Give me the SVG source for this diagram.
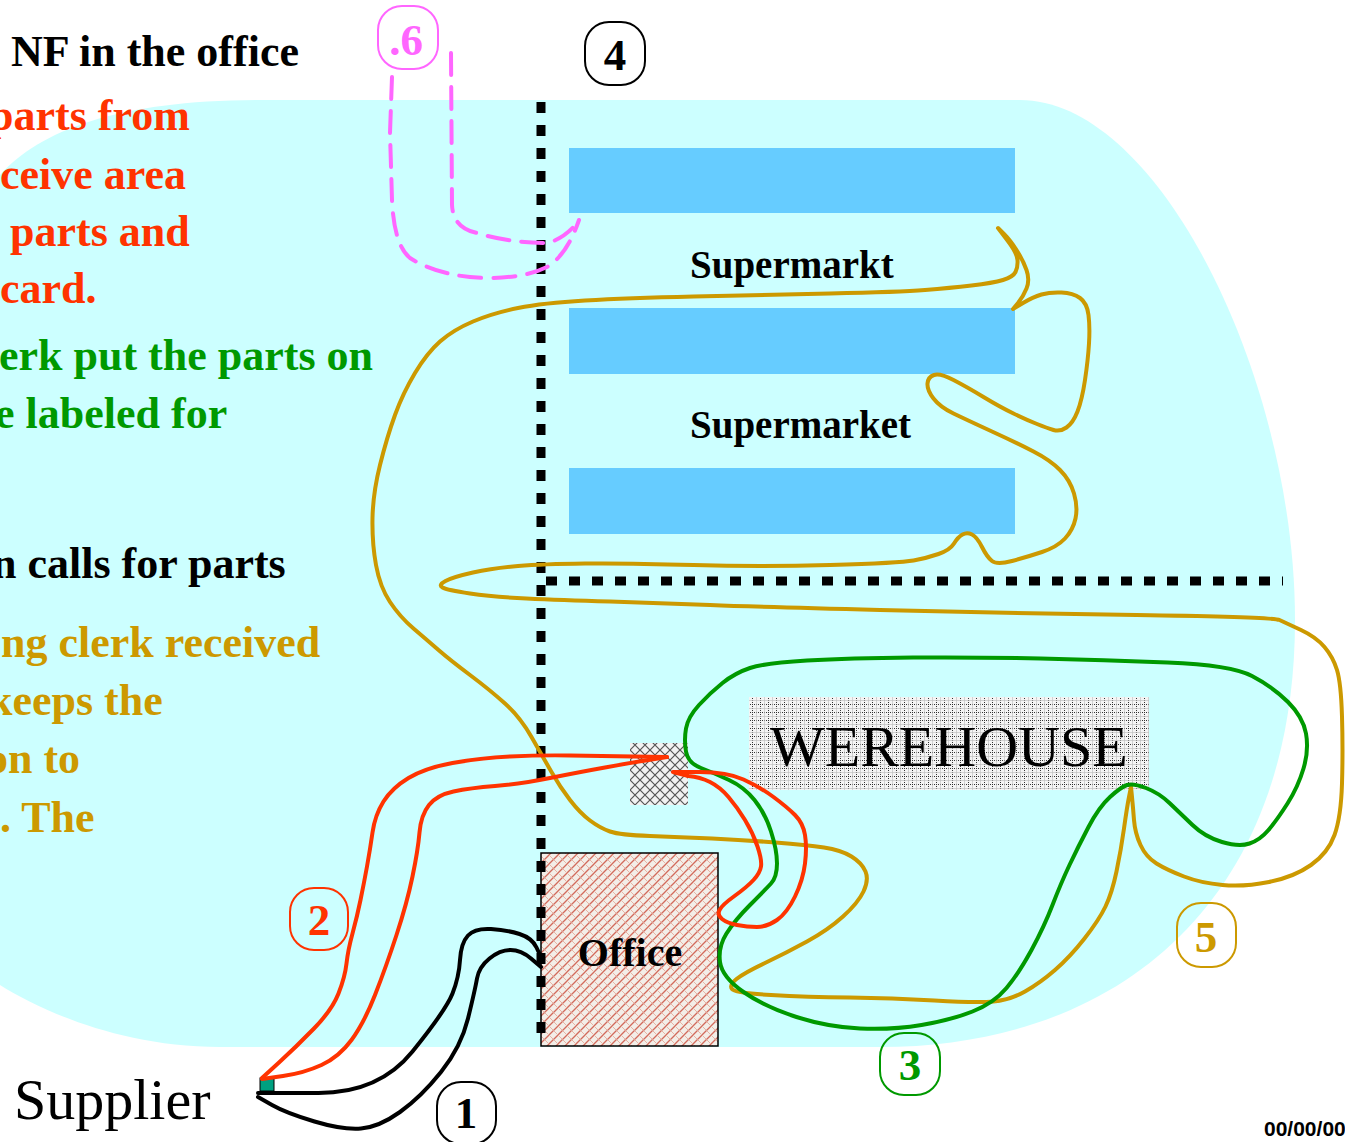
<svg xmlns="http://www.w3.org/2000/svg" width="1345" height="1142" viewBox="0 0 1345 1142">
<style>
.t{font-family:"Liberation Serif","Times New Roman",serif;font-weight:bold;font-size:44px}
.red{fill:#FF3300}.grn{fill:#009900}.gld{fill:#CC9900}.blk{fill:#000}
.bar{fill:#66CCFF}
.sup{font-family:"Liberation Serif","Times New Roman",serif;font-weight:bold;font-size:39px;fill:#000}
.num{font-family:"Liberation Serif","Times New Roman",serif;font-weight:bold;font-size:45px;text-anchor:middle}
.box{fill:none;stroke-width:2}
.dot{fill:none;stroke:#000;stroke-width:9;stroke-dasharray:11 12}
.c{fill:none;stroke-width:4;stroke-linecap:round;stroke-linejoin:round}
</style>
<defs>
<pattern id="office" width="9" height="9" patternUnits="userSpaceOnUse">
<rect width="9" height="9" fill="#F3EEE8"/>
<path d="M-1,10 L10,-1" stroke="#D26B5C" stroke-width="1.3"/>
<path d="M0,0 L9,9" stroke="#E2A494" stroke-width="0.8"/>
</pattern>
<pattern id="hatch" width="10" height="10" patternUnits="userSpaceOnUse">
<rect width="10" height="10" fill="#F2F2F2"/>
<path d="M0,0 L10,10 M0,10 L10,0" stroke="#555" stroke-width="1.2"/>
</pattern>
<pattern id="grid" width="8" height="8" patternUnits="userSpaceOnUse">
<rect width="8" height="8" fill="#F4F4F4"/>
<path d="M0.5,0 V8 M0,0.5 H8" stroke="#333" stroke-width="1" stroke-dasharray="1 1"/>
<path d="M4.5,0 V8 M0,4.5 H8" stroke="#BBB" stroke-width="0.6"/>
</pattern>
</defs>
<rect width="1345" height="1142" fill="#FFFFFF"/>
<path id="area" d="M0,175 C40,130 120,100 260,100 L1020,100 C1160,100 1295,380 1295,620 C1295,900 1120,1047 880,1047 L220,1047 C120,1047 40,1010 0,985 Z" fill="#CCFFFF"/>

<g id="text-left">
<text class="t blk" x="11" y="66">NF in the office</text>
<text class="t red" x="-11" y="130">parts from</text>
<text class="t red" x="0" y="189">ceive area</text>
<text class="t red" x="10" y="246">parts and</text>
<text class="t red" x="0" y="303">card.</text>
<text class="t grn" x="-1" y="370">erk put the parts on</text>
<text class="t grn" x="-5" y="428">e labeled for</text>
<text class="t blk" x="-8" y="578">n calls for parts</text>
<text class="t gld" x="1" y="657">ng clerk received</text>
<text class="t gld" x="-12" y="715">keeps the</text>
<text class="t gld" x="-14" y="773">on to</text>
<text class="t gld" x="0" y="832">. The</text>
</g>

<g id="supermarket">
<rect class="bar" x="569" y="148" width="446" height="65"/>
<rect class="bar" x="569" y="308" width="446" height="66"/>
<rect class="bar" x="569" y="468" width="446" height="66"/>
<text class="sup" x="690" y="278">Supermarkt</text>
<text class="sup" x="690" y="438">Supermarket</text>
</g>

<g id="warehouse">
<rect x="749" y="697" width="400" height="93" fill="url(#grid)"/>
<text x="770" y="766" font-family="Liberation Serif,Times New Roman,serif" font-size="58" fill="#000">WEREHOUSE</text>
</g>

<g id="office-node">
<rect x="541" y="853" width="177" height="193" fill="url(#office)" stroke="#000" stroke-width="1.5"/>
<text x="630" y="966" text-anchor="middle" font-family="Liberation Serif,Times New Roman,serif" font-weight="bold" font-size="40" fill="#000">Office</text>
</g>

<g id="kanban-post">
<rect x="630" y="743" width="58" height="62" fill="url(#hatch)"/>
</g>

<g id="boundaries">
<path class="dot" d="M541,102 V1045"/>
<path class="dot" d="M546,581 H1283"/>
</g>

<g id="supplier">
<text x="14" y="1119" font-family="Liberation Serif,Times New Roman,serif" font-size="58" fill="#000">Supplier</text>
<rect x="260" y="1078" width="14" height="13" fill="#00A080" stroke="#000" stroke-width="1"/>
</g>

<g id="connectors">
<path class="c" stroke="#CC9900" d="M1131,787 L1129,797 Q1127,807 1124,828.5 Q1121,850 1116.5,871.5 Q1112,893 1105.5,906.5 Q1099,920 1084.5,938.5 Q1070,957 1055,970 Q1040,983 1025,991.5 Q1010,1000 993.5,1001.5 Q977,1003 934.5,1000.5 Q892,998 849.5,997.5 Q807,997 771,995 Q735,993 732,989 Q729,985 736.5,979 Q744,973 765,963 Q786,953 807,941.5 Q828,930 843,916.5 Q858,903 863.5,891.5 Q869,880 865.5,871.5 Q862,863 851.5,856.5 Q841,850 824,847.5 Q807,845 775.5,842.5 Q744,840 712,838.5 Q680,837 650,836 Q620,835 610,831.5 Q600,828 590,820.5 Q580,813 570,800 Q560,787 551.5,772 Q543,757 531.5,737 Q520,717 505,703.5 Q490,690 470,675 Q450,660 438.5,650 Q427,640 413.5,628.5 Q400,617 390,602 Q380,587 376,565 Q372,543 372.5,518 Q373,493 380,465 Q387,437 395,415 Q403,393 415,373 Q427,353 440,341.5 Q453,330 473,321.5 Q493,313 518,308 Q543,303 585,300.5 Q627,298 693.5,296.5 Q760,295 830,293.5 Q900,292 925,290 Q950,288 971.5,285.5 Q993,283 1003,280 Q1013,277 1015.5,272 Q1018,267 1017.5,260 Q1017,253 1007.5,240.5 L998,228 L1004,234 Q1010,240 1016.5,250 Q1023,260 1026.5,270 Q1030,280 1026.5,288.5 Q1023,297 1018,303 L1013,309 L1023,303 Q1033,297 1041.5,294.5 Q1050,292 1061.5,292.5 Q1073,293 1080,298 Q1087,303 1088.5,315 Q1090,327 1089,343.5 Q1088,360 1085,380 Q1082,400 1077.5,411.5 Q1073,423 1066.5,427.5 Q1060,432 1053.5,430 Q1047,428 1037,424 Q1027,420 1013.5,413.5 Q1000,407 983.5,397 Q967,387 953.5,380 Q940,373 934,375 Q928,377 927.5,383.5 Q927,390 933.5,398.5 Q940,407 953.5,413.5 Q967,420 992,431.5 Q1017,443 1033.5,451.5 Q1050,460 1060,470 Q1070,480 1074,493.5 Q1078,507 1075.5,518.5 Q1073,530 1065,538.5 Q1057,547 1042,552 Q1027,557 1012,561 Q997,565 992,561 Q987,557 982,547 Q977,537 972,534.5 Q967,532 962.5,534.5 Q958,537 954,543.5 Q950,550 938.5,554 Q927,558 913.5,560.5 Q900,563 830,565 Q760,567 693.5,565 Q627,563 585,563.5 Q543,564 518,566 Q493,568 473,572.5 Q453,577 445.5,581 Q438,585 442.5,587.5 Q447,590 470,593.5 Q493,597 526.5,598.5 Q560,600 610,601.5 Q660,603 710,605 Q760,607 880,610 Q1000,613 1136.5,615 Q1273,617 1279.5,620 Q1286,623 1301,630 Q1316,637 1324.5,647 Q1333,657 1337,670 Q1341,683 1342,716.5 Q1343,750 1342,783.5 Q1341,817 1334.5,835 Q1328,853 1311,865 Q1294,877 1269,882 Q1244,887 1222.5,885 Q1201,883 1184,876.5 Q1167,870 1156.5,863.5 Q1146,857 1140.5,845 Q1135,833 1134,820 Q1133,807 1132,797 L1131,787"/>
<path class="c" stroke="#009900" d="M686,728.5 Q688,717 699,705 Q710,693 722.5,683 Q735,673 750,668 Q765,663 807,660.5 Q849,658 913,657.5 Q977,657 1040.5,658.5 Q1104,660 1167.5,662.5 Q1231,665 1252,676 Q1273,687 1288,702 Q1303,717 1306,733.5 Q1309,750 1303.5,768.5 Q1298,787 1287.5,803.5 Q1277,820 1268.5,830 Q1260,840 1249.5,843.5 Q1239,847 1222,842 Q1205,837 1192.5,825 Q1180,813 1169.5,803 Q1159,793 1146,788 Q1133,783 1127,785 Q1121,787 1110,797 Q1099,807 1088.5,827 Q1078,847 1069.5,865 Q1061,883 1052.5,905 Q1044,927 1031.5,950 Q1019,973 1006.5,988 Q994,1003 972.5,1011.5 Q951,1020 921.5,1025 Q892,1030 860,1028.5 Q828,1027 796.5,1017 Q765,1007 743.5,992 Q722,977 720,962 Q718,947 726.5,933.5 Q735,920 750,905 Q765,890 771,883.5 Q777,877 777,863.5 Q777,850 771,831.5 Q765,813 754.5,800 Q744,787 729,780 Q714,773 701,768 Q688,763 686,751.5 Q684,740 686,728.5 Z"/>
<path class="c" stroke="#FF3300" d="M262,1078 L279,1062.5 Q296,1047 314,1028.5 Q332,1010 338.5,993.5 Q345,977 346.5,963.5 Q348,950 352.5,933.5 Q357,917 360.5,900 Q364,883 367,866.5 Q370,850 372.5,832.5 Q375,815 383.5,801.5 Q392,788 408.5,778 Q425,768 452.5,763 Q480,758 510,756.5 Q540,755 570,755.5 Q600,756 633.5,756.5 L667,757"/>
<path class="c" stroke="#FF3300" d="M262,1079 L283,1076 Q304,1073 321.5,1065 Q339,1057 351.5,1040 Q364,1023 375,995 Q386,967 396.5,935 Q407,903 412.5,876.5 Q418,850 419.5,832.5 Q421,815 429,805 Q437,795 453.5,791.5 Q470,788 495,786 Q520,784 550,778 Q580,772 605,767.5 Q630,763 648.5,760 L667,757"/>
<path class="c" stroke="#FF3300" d="M673,772 L700,772 Q727,772 743.5,779.5 Q760,787 773.5,797 Q787,807 795,815 Q803,823 805,835 Q807,847 805,863.5 Q803,880 795,896.5 Q787,913 777,920 Q767,927 757,927 Q747,927 737,925 Q727,923 722,919 Q717,915 719.5,910 Q722,905 734.5,896 Q747,887 753.5,880 Q760,873 761,866.5 Q762,860 757.5,846.5 Q753,833 745,820 Q737,807 728.5,797 Q720,787 710,782 Q700,777 688.5,776 L673,772"/>
<path class="c" stroke="#000" d="M258,1093 L318.5,1093 Q379,1093 412.5,1051.5 Q446,1010 452.5,993.5 Q459,977 460,960 Q461,943 468,935.5 Q475,928 491,929 Q507,930 519.5,934 Q532,938 536.5,947.5 L541,957"/>
<path class="c" stroke="#000" d="M258,1097 L272,1105 Q286,1113 314.5,1121.5 Q343,1130 361,1128.5 Q379,1127 400,1112 Q421,1097 441,1072 Q461,1047 468,1018.5 Q475,990 477,978.5 Q479,967 489.5,958.5 Q500,950 510.5,950 Q521,950 531,958.5 L541,967"/>
<path class="c" stroke="#FF66FF" stroke-linecap="butt" stroke-dasharray="22 12" d="M392,77 L390,133 L392,200 Q394,245 410,258 Q440,277 487,278 Q525,278 547,267 Q567,255 579,220"/>
<path class="c" stroke="#FF66FF" stroke-linecap="butt" stroke-dasharray="22 12" d="M451,53 L452,205 Q453,228 477,233 Q510,243 548,243 Q565,238 578,222"/>
</g>

<g id="labels">
<g id="label-6"><rect class="box" x="378" y="6" width="60" height="63" rx="24" stroke="#FF66FF"/><text class="num" x="406" y="55" font-size="40" fill="#FF66FF">.6</text></g>
<g id="label-4"><rect class="box" x="585" y="22" width="60" height="63" rx="24" stroke="#000"/><text class="num" x="615" y="70" fill="#000">4</text></g>
<g id="label-2"><rect class="box" x="290" y="888" width="58" height="62" rx="24" stroke="#FF3300"/><text class="num" x="319" y="935" fill="#FF3300">2</text></g>
<g id="label-1"><rect class="box" x="437" y="1082" width="59" height="62" rx="24" stroke="#000"/><text class="num" x="466" y="1128" fill="#000">1</text></g>
<g id="label-3"><rect class="box" x="880" y="1033" width="60" height="62" rx="24" stroke="#009900"/><text class="num" x="910" y="1080" fill="#009900">3</text></g>
<g id="label-5"><rect class="box" x="1177" y="903" width="59" height="64" rx="24" stroke="#CC9900"/><text class="num" x="1206" y="952" fill="#CC9900">5</text></g>
</g>

<text x="1264" y="1136" font-family="Liberation Sans,Arial,sans-serif" font-weight="bold" font-size="21" fill="#000">00/00/00</text>
</svg>
